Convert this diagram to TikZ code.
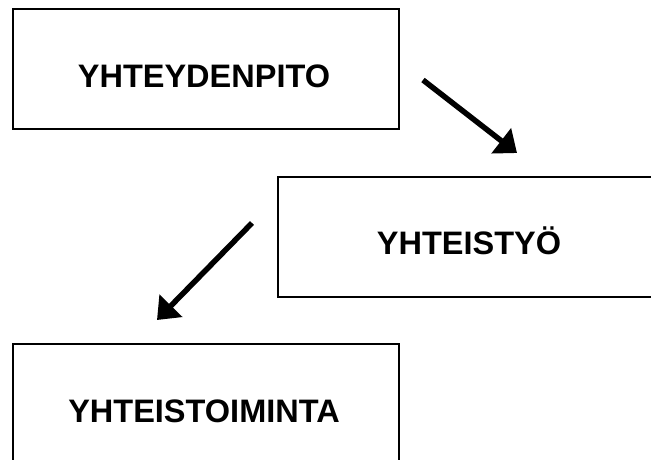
\documentclass[tikz,border=0pt]{standalone}
\usepackage{fontspec}
\setmainfont{Liberation Sans}
\usetikzlibrary{arrows.meta}
\begin{document}
\begin{tikzpicture}[x=1pt,y=-1pt,
  boxst/.style={draw=black,line width=1.6pt,minimum width=#1,minimum height=120pt,inner sep=0pt,anchor=north west},
  boxst/.default=386pt,
  lbl/.style={anchor=base,inner sep=0pt,font=\fontsize{32.5}{38}\selectfont\bfseries},
  arr/.style={line width=5.5pt,-{Triangle[length=20pt,width=31pt]}}]
\useasboundingbox (0,0) rectangle (651,459);
\clip (0,0) rectangle (651,459);
\fill[white] (0,0) rectangle (651,459);
\node[boxst] (b1) at (12,8) {};
\node[boxst=440pt] (b2) at (277,176) {};
\node[boxst=386pt,minimum height=140pt] (b3) at (12,343) {};
\node[lbl] (t1) at (204,87.5) {YHTEYDENPITO};
\node[lbl] (t2) at (469,254.5) {YHTEISTYÖ};
\node[lbl] (t3) at (204,422) {YHTEISTOIMINTA};
\coordinate (a1s) at (423,80);
\coordinate (a1e) at (517,153);
\coordinate (a2s) at (252,223);
\coordinate (a2e) at (157,320);
\draw[arr] (a1s) -- (a1e);
\draw[arr] (a2s) -- (a2e);
\end{tikzpicture}
\end{document}
